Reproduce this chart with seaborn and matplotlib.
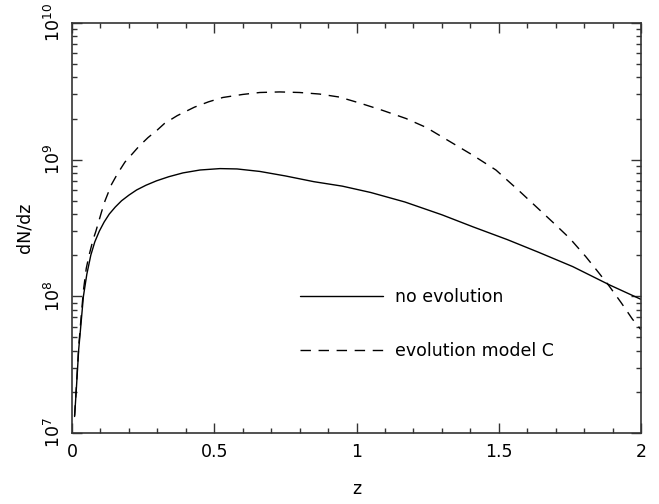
import numpy as np
import pandas as pd
import seaborn as sns
import matplotlib
matplotlib.use("Agg")
import matplotlib.pyplot as plt
from matplotlib.ticker import MultipleLocator, LogLocator, NullFormatter

# values
z_noevo = [0.009, 0.015, 0.0235, 0.03, 0.04, 0.052, 0.066, 0.08, 0.096, 0.113,
           0.131, 0.152, 0.174, 0.2, 0.227, 0.26, 0.297, 0.34, 0.39, 0.45,
           0.52, 0.58, 0.66, 0.75, 0.85, 0.95, 1.05, 1.17, 1.3, 1.41,
           1.53, 1.64, 1.76, 1.89, 2.0]
dndz_noevo = [1.32e7, 2.07e7, 4.1e7, 5.8e7, 1.0e8, 1.45e8, 2.0e8, 2.5e8, 3.0e8, 3.5e8,
              4.0e8, 4.5e8, 5.0e8, 5.5e8, 6.0e8, 6.5e8, 7.0e8, 7.5e8, 8.0e8, 8.4e8,
              8.6e8, 8.55e8, 8.2e8, 7.6e8, 6.9e8, 6.4e8, 5.75e8, 4.9e8, 3.95e8, 3.22e8,
              2.6e8, 2.1e8, 1.65e8, 1.21e8, 9.5e7]

z_evoC = [0.009, 0.015, 0.0235, 0.03, 0.04, 0.05, 0.06, 0.074, 0.084, 0.103,
          0.116, 0.139, 0.16, 0.186, 0.208, 0.235, 0.267, 0.3, 0.325, 0.37,
          0.43, 0.48, 0.53, 0.6, 0.66, 0.73, 0.8, 0.87, 0.94, 1.01,
          1.09, 1.174, 1.245, 1.408, 1.49, 1.572, 1.689, 1.75, 1.806, 1.85,
          1.888, 1.93, 1.97, 2.0]
dndz_evoC = [1.34e7, 2.15e7, 4.3e7, 6.3e7, 1.1e8, 1.6e8, 2.0e8, 2.6e8, 3.0e8, 4.1e8,
             5.0e8, 6.6e8, 7.9e8, 9.6e8, 1.08e9, 1.25e9, 1.45e9, 1.65e9, 1.84e9, 2.1e9,
             2.42e9, 2.65e9, 2.85e9, 3.0e9, 3.1e9, 3.13e9, 3.1e9, 3.02e9, 2.87e9, 2.6e9,
             2.3e9, 2.0e9, 1.72e9, 1.08e9, 8.4e8, 5.9e8, 3.5e8, 2.65e8, 1.95e8, 1.5e8,
             1.19e8, 9.0e7, 6.8e7, 5.7e7]

labels = ["no evolution", "evolution model C"]

sns.set_style("ticks")
plt.rcParams["font.family"] = ["DejaVu Sans"]
plt.rcParams["font.size"] = 12.5
plt.rcParams["text.color"] = "black"
plt.rcParams["axes.labelcolor"] = "black"
plt.rcParams["xtick.labelcolor"] = "black"
plt.rcParams["ytick.labelcolor"] = "black"

fig, ax = plt.subplots(figsize=(6.59, 5.04), dpi=100)
fig.subplots_adjust(left=0.1093, right=0.9727, bottom=0.1409, top=0.9544)

sns.lineplot(x=z_noevo, y=dndz_noevo, ax=ax, color="black", linewidth=1.0,
             label=labels[0], sort=False)
sns.lineplot(x=z_evoC, y=dndz_evoC, ax=ax, color="black", linewidth=1.0,
             label=labels[1], sort=False)
ax.lines[1].set_dashes((7.5, 5.5))

ax.set_yscale("log")
ax.set_xlim(0, 2)
ax.set_ylim(1e7, 1e10)

ax.xaxis.set_major_locator(MultipleLocator(0.5))
ax.xaxis.set_minor_locator(MultipleLocator(0.1))
ax.xaxis.set_major_formatter(plt.FuncFormatter(lambda v, p: f"{v:g}"))
ax.yaxis.set_major_locator(LogLocator(base=10, numticks=10))
ax.yaxis.set_minor_locator(LogLocator(base=10, subs=np.arange(2, 10), numticks=10))
ax.yaxis.set_minor_formatter(NullFormatter())

ax.tick_params(which="both", direction="in", top=True, right=True, color="#333333")
ax.tick_params(which="major", length=7, width=1.0)
ax.tick_params(which="minor", length=3.5, width=1.0)
ax.tick_params(axis="x", which="major", pad=7)
ax.tick_params(axis="y", which="major", pad=6)
for lab in ax.get_yticklabels():
    lab.set_rotation(90)
    lab.set_va("center")

for s in ax.spines.values():
    s.set_linewidth(1.2)
    s.set_color("#333333")

ax.set_xlabel("z", labelpad=14)
ax.set_ylabel("dN/dz", labelpad=7)

leg = ax.legend(loc="center left", bbox_to_anchor=(0.4007, 0.266), frameon=False,
                handlelength=4.77, handletextpad=0.69, labelspacing=2.05,
                borderpad=0, borderaxespad=0, fontsize=12.5)

fig.savefig("out.png", dpi=100)
